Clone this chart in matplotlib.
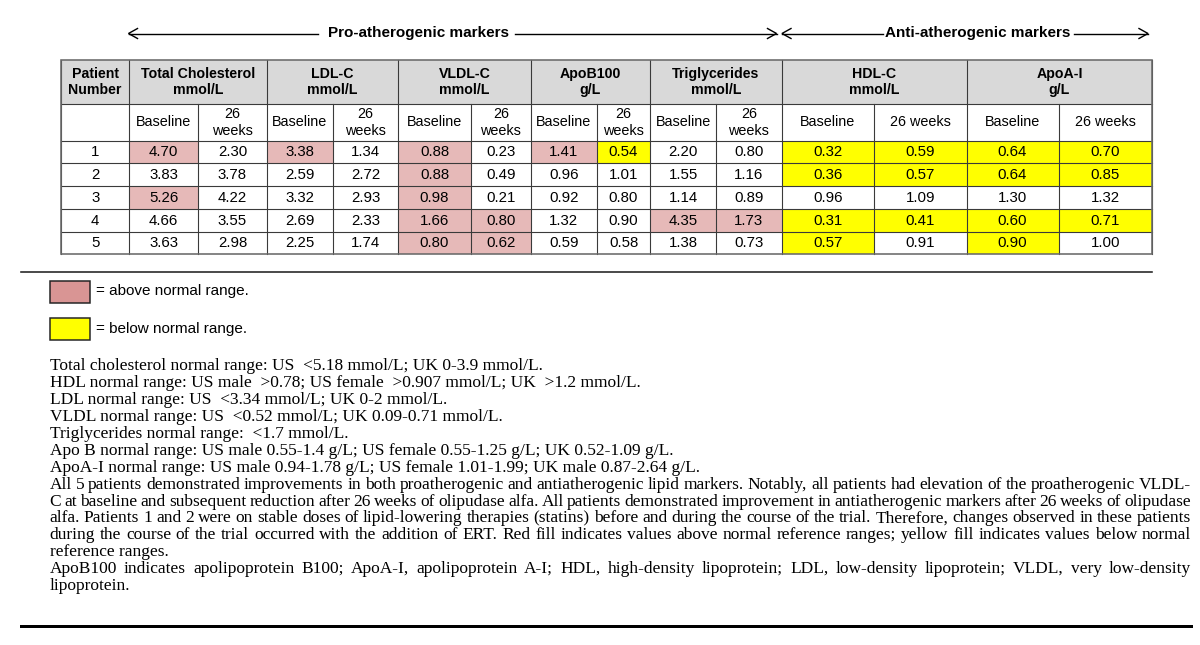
import matplotlib
matplotlib.use('Agg')
import matplotlib.pyplot as plt
from matplotlib.patches import Rectangle

# ---------------- data ----------------
patient_ids = ['1', '2', '3', '4', '5']
group_names = ['Total Cholesterol', 'LDL-C', 'VLDL-C', 'ApoB100', 'Triglycerides', 'HDL-C', 'ApoA-I']
group_units = ['mmol/L', 'mmol/L', 'mmol/L', 'g/L', 'mmol/L', 'mmol/L', 'g/L']
time_labels = ['Baseline', '26 weeks']

tc_baseline = [4.70, 3.83, 5.26, 4.66, 3.63]
tc_week26 = [2.30, 3.78, 4.22, 3.55, 2.98]
ldl_baseline = [3.38, 2.59, 3.32, 2.69, 2.25]
ldl_week26 = [1.34, 2.72, 2.93, 2.33, 1.74]
vldl_baseline = [0.88, 0.88, 0.98, 1.66, 0.80]
vldl_week26 = [0.23, 0.49, 0.21, 0.80, 0.62]
apob_baseline = [1.41, 0.96, 0.92, 1.32, 0.59]
apob_week26 = [0.54, 1.01, 0.80, 0.90, 0.58]
tg_baseline = [2.20, 1.55, 1.14, 4.35, 1.38]
tg_week26 = [0.80, 1.16, 0.89, 1.73, 0.73]
hdl_baseline = [0.32, 0.36, 0.96, 0.31, 0.57]
hdl_week26 = [0.59, 0.57, 1.09, 0.41, 0.91]
apoa_baseline = [0.64, 0.64, 1.30, 0.60, 0.90]
apoa_week26 = [0.70, 0.85, 1.32, 0.71, 1.00]

# H = above normal range, L = below normal range
tc_baseline_flag = ['H', '', 'H', '', '']
tc_week26_flag = ['', '', '', '', '']
ldl_baseline_flag = ['H', '', '', '', '']
ldl_week26_flag = ['', '', '', '', '']
vldl_baseline_flag = ['H', 'H', 'H', 'H', 'H']
vldl_week26_flag = ['', '', '', 'H', 'H']
apob_baseline_flag = ['H', '', '', '', '']
apob_week26_flag = ['L', '', '', '', '']
tg_baseline_flag = ['', '', '', 'H', '']
tg_week26_flag = ['', '', '', 'H', '']
hdl_baseline_flag = ['L', 'L', '', 'L', 'L']
hdl_week26_flag = ['L', 'L', '', 'L', '']
apoa_baseline_flag = ['L', 'L', '', 'L', 'L']
apoa_week26_flag = ['L', 'L', '', 'L', '']

pro_label = 'Pro-atherogenic markers'
anti_label = 'Anti-atherogenic markers'
legend_labels = ['= above normal range.', '= below normal range.']

plain_notes = [
    'Total cholesterol normal range: US  <5.18 mmol/L; UK 0-3.9 mmol/L.',
    'HDL normal range: US male  >0.78; US female  >0.907 mmol/L; UK  >1.2 mmol/L.',
    'LDL normal range: US  <3.34 mmol/L; UK 0-2 mmol/L.',
    'VLDL normal range: US  <0.52 mmol/L; UK 0.09-0.71 mmol/L.',
    'Triglycerides normal range:  <1.7 mmol/L.',
    'Apo B normal range: US male 0.55-1.4 g/L; US female 0.55-1.25 g/L; UK 0.52-1.09 g/L.',
    'ApoA-I normal range: US male 0.94-1.78 g/L; US female 1.01-1.99; UK male 0.87-2.64 g/L.',
]
para1_lines = [
    'All 5 patients demonstrated improvements in both proatherogenic and antiatherogenic lipid markers. Notably, all patients had elevation of the proatherogenic VLDL-',
    'C at baseline and subsequent reduction after 26 weeks of olipudase alfa. All patients demonstrated improvement in antiatherogenic markers after 26 weeks of olipudase',
    'alfa. Patients 1 and 2 were on stable doses of lipid-lowering therapies (statins) before and during the course of the trial. Therefore, changes observed in these patients',
    'during the course of the trial occurred with the addition of ERT. Red fill indicates values above normal reference ranges; yellow fill indicates values below normal',
    'reference ranges.',
]
para2_lines = [
    'ApoB100 indicates apolipoprotein B100; ApoA-I, apolipoprotein A-I; HDL, high-density lipoprotein; LDL, low-density lipoprotein; VLDL, very low-density',
    'lipoprotein.',
]

data_columns = [tc_baseline, tc_week26, ldl_baseline, ldl_week26, vldl_baseline, vldl_week26,
                apob_baseline, apob_week26, tg_baseline, tg_week26, hdl_baseline, hdl_week26,
                apoa_baseline, apoa_week26]
flag_columns = [tc_baseline_flag, tc_week26_flag, ldl_baseline_flag, ldl_week26_flag,
                vldl_baseline_flag, vldl_week26_flag, apob_baseline_flag, apob_week26_flag,
                tg_baseline_flag, tg_week26_flag, hdl_baseline_flag, hdl_week26_flag,
                apoa_baseline_flag, apoa_week26_flag]

# ---------------- layout ----------------
SANS = ['Liberation Sans', 'DejaVu Sans']
SERIF = ['Liberation Serif', 'DejaVu Serif']
PX = 0.72  # points per pixel at dpi 100
HEAD_GRAY = '#d9d9d9'
CELL_PINK = '#e6b9b8'
LEG_PINK = '#d99594'
YELLOW = '#ffff00'

fig = plt.figure(figsize=(12, 6.45), dpi=100)
ax = fig.add_axes([0, 0, 1, 1])
ax.set_xlim(0, 1200)
ax.set_ylim(645, 0)
ax.axis('off')

col_edges = [61.2, 129, 198.2, 266.7, 332.6, 398.4, 470.7, 530.8, 597, 650.1,
             716, 781.8, 874, 966.6, 1058.5, 1152.2]
row_edges = [60, 104, 140.7, 163.3, 186, 208.7, 231.5, 254.3]
x_left, x_right = col_edges[0], col_edges[-1]

# header fill
ax.add_patch(Rectangle((x_left, row_edges[0]), x_right - x_left, row_edges[1] - row_edges[0],
                       fc=HEAD_GRAY, ec='none', zorder=1))
# flagged cells
for c, flags in enumerate(flag_columns):
    for r, f in enumerate(flags):
        if f:
            x0, x1 = col_edges[c + 1], col_edges[c + 2]
            y0, y1 = row_edges[r + 2], row_edges[r + 3]
            ax.add_patch(Rectangle((x0, y0), x1 - x0, y1 - y0,
                                   fc=CELL_PINK if f == 'H' else YELLOW, ec='none', zorder=1))

# grid lines
LINE = '#3a3a3a'
for y in row_edges[1:-1]:
    ax.plot([x_left, x_right], [y, y], color=LINE, lw=1.1 * PX, zorder=2)
group_bounds = [0, 1] + [1 + 2 * (g + 1) for g in range(len(group_names))]
for i, x in enumerate(col_edges):
    top = row_edges[0] if i in group_bounds else row_edges[1]
    ax.plot([x, x], [top, row_edges[-1]], color=LINE, lw=1.1 * PX, zorder=2)
ax.add_patch(Rectangle((x_left, row_edges[0]), x_right - x_left, row_edges[-1] - row_edges[0],
                       fc='none', ec='#6a6a6a', lw=1.6 * PX, zorder=3))

# header texts
hy = (row_edges[0] + row_edges[1]) / 2
ax.text((col_edges[0] + col_edges[1]) / 2, hy, 'Patient\nNumber', ha='center', va='center',
        fontsize=10.2, fontweight='bold', family=SANS, linespacing=1.15, zorder=4)
for g, (name, unit) in enumerate(zip(group_names, group_units)):
    xa, xb = col_edges[1 + 2 * g], col_edges[3 + 2 * g]
    ax.text((xa + xb) / 2, hy, f'{name}\n{unit}', ha='center', va='center',
            fontsize=10.2, fontweight='bold', family=SANS, linespacing=1.15, zorder=4)

# sub-header
sy = (row_edges[1] + row_edges[2]) / 2
for c in range(len(data_columns)):
    xa, xb = col_edges[c + 1], col_edges[c + 2]
    lab = time_labels[c % 2]
    if (xb - xa) < 75 and ' ' in lab:
        lab = lab.replace(' ', '\n')
    ax.text((xa + xb) / 2, sy, lab, ha='center', va='center', fontsize=10.4,
            family=SANS, linespacing=1.3, zorder=4)

# data rows
for r, pid in enumerate(patient_ids):
    cy = (row_edges[r + 2] + row_edges[r + 3]) / 2 + 0.5
    ax.text((col_edges[0] + col_edges[1]) / 2, cy, pid, ha='center', va='center',
            fontsize=10.8, family=SANS, zorder=4)
    for c, vals in enumerate(data_columns):
        ax.text((col_edges[c + 1] + col_edges[c + 2]) / 2, cy, f'{vals[r]:.2f}',
                ha='center', va='center', fontsize=10.8, family=SANS, zorder=4)

# arrows above table
ARROW_Y = 33.5
def chevron(xtip, direction):
    d = 9 * direction
    ax.plot([xtip + d, xtip, xtip + d], [ARROW_Y - 5, ARROW_Y, ARROW_Y + 5],
            color='black', lw=1.4 * PX, solid_joinstyle='miter', zorder=4)

ax.plot([128.5, 318], [ARROW_Y, ARROW_Y], color='black', lw=1.4 * PX)
ax.plot([515, 776.5], [ARROW_Y, ARROW_Y], color='black', lw=1.4 * PX)
chevron(128.5, 1)
chevron(776.5, -1)
ax.text(418, ARROW_Y, pro_label, ha='center', va='center', fontsize=11, fontweight='bold', family=SANS)
ax.plot([782, 882.5], [ARROW_Y, ARROW_Y], color='black', lw=1.4 * PX)
ax.plot([1074, 1148], [ARROW_Y, ARROW_Y], color='black', lw=1.4 * PX)
chevron(782, 1)
chevron(1148, -1)
ax.text(978, ARROW_Y, anti_label, ha='center', va='center', fontsize=11, fontweight='bold', family=SANS)

# separator under table
ax.plot([21, x_right], [272.3, 272.3], color='#222222', lw=1.6 * PX)

# legend
for (y0, y1, fc), lab in zip([(280.5, 302.5, LEG_PINK), (317.5, 340, YELLOW)], legend_labels):
    ax.add_patch(Rectangle((49.5, y0), 40, y1 - y0, fc=fc, ec='#222222', lw=1.5 * PX))
    ax.text(95.5, (y0 + y1) / 2, lab, ha='left', va='center', fontsize=11, family=SANS)

# footnotes
renderer = fig.canvas.get_renderer()

def width_of(s, size):
    t = ax.text(0, 0, s, fontsize=size, family=SERIF)
    w = t.get_window_extent(renderer).width
    t.remove()
    return w

NOTE_LEFT, NOTE_RIGHT = 49.5, 1191
size_plain = 10 * 493 / width_of(plain_notes[0], 10)
line_y0, line_step = 366, 16.9

def baseline(i):
    return line_y0 + i * line_step + 4.3

for i, s in enumerate(plain_notes):
    ax.text(NOTE_LEFT, baseline(i), s, ha='left', va='baseline', fontsize=size_plain, family=SERIF)

def justified(lines, start_index, size):
    for j, s in enumerate(lines):
        y = baseline(start_index + j)
        if j == len(lines) - 1:
            ax.text(NOTE_LEFT, y, s, ha='left', va='baseline', fontsize=size, family=SERIF)
            continue
        words = s.split(' ')
        ws = [width_of(w, size) for w in words]
        gap = (NOTE_RIGHT - NOTE_LEFT - sum(ws)) / (len(words) - 1)
        x = NOTE_LEFT
        for w, wd in zip(words, ws):
            ax.text(x, y, w, ha='left', va='baseline', fontsize=size, family=SERIF)
            x += wd + gap

# size for paragraphs: fit widest line with small gaps
def needed(lines, size):
    m = 0
    for s in lines[:-1]:
        words = s.split(' ')
        tot = sum(width_of(w, size) for w in words) + (len(words) - 1) * 0.2 * size / 0.72
        m = max(m, tot)
    return m

size_para = size_plain
nmax = needed(para1_lines + para2_lines[:1] + ['x'], size_para)
if nmax > NOTE_RIGHT - NOTE_LEFT:
    size_para = size_para * (NOTE_RIGHT - NOTE_LEFT) / nmax

justified(para1_lines, len(plain_notes), size_para)
justified(para2_lines, len(plain_notes) + len(para1_lines), size_para)

# bottom rule
ax.plot([21, 1191], [626, 626], color='black', lw=3 * PX)

fig.savefig('out.png', dpi=100)
